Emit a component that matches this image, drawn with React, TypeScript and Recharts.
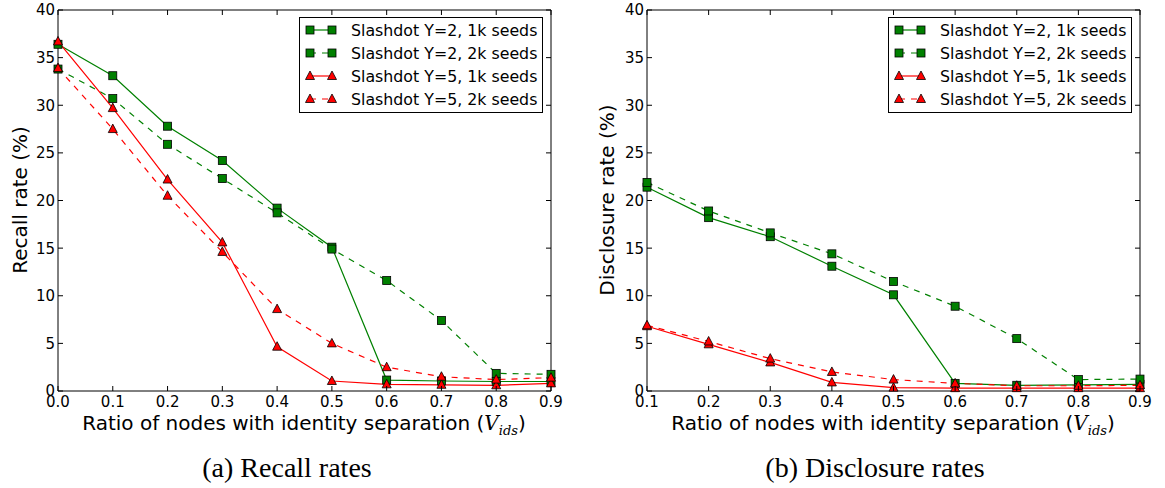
import { Legend, Line, LineChart, ReferenceArea, XAxis, YAxis } from "recharts"

const xRecall = [0, 0.1, 0.2, 0.3, 0.4, 0.5, 0.6, 0.7, 0.8, 0.9]
const recallY2k1 = [36.4, 33.1, 27.8, 24.2, 19.2, 15.1, 1.15, 1.05, 1.0, 1.0]
const recallY2k2 = [33.8, 30.7, 25.9, 22.3, 18.7, 14.9, 11.6, 7.4, 1.85, 1.75]
const recallY5k1 = [36.7, 29.7, 22.2, 15.6, 4.65, 1.05, 0.7, 0.65, 0.6, 0.8]
const recallY5k2 = [33.9, 27.5, 20.5, 14.6, 8.6, 5.0, 2.5, 1.5, 1.2, 1.4]

const xDisc = [0.1, 0.2, 0.3, 0.4, 0.5, 0.6, 0.7, 0.8, 0.9]
const discY2k1 = [21.4, 18.2, 16.2, 13.1, 10.1, 0.8, 0.6, 0.65, 0.7]
const discY2k2 = [21.9, 18.9, 16.6, 14.4, 11.5, 8.9, 5.5, 1.2, 1.25]
const discY5k1 = [6.8, 4.9, 3.0, 0.9, 0.35, 0.3, 0.3, 0.3, 0.3]
const discY5k2 = [6.9, 5.2, 3.4, 2.0, 1.2, 0.8, 0.55, 0.55, 0.6]

const yTicks = [0, 5, 10, 15, 20, 25, 30, 35, 40]
const seriesNames = [
  "Slashdot Y=2, 1k seeds",
  "Slashdot Y=2, 2k seeds",
  "Slashdot Y=5, 1k seeds",
  "Slashdot Y=5, 2k seeds",
]

const GREEN = "#008000"
const RED = "#ff0000"
const FONT = "'DejaVu Sans', sans-serif"

// plot box size inside each panel (chart 570x430 minus margins/axes)
const PLOT_W = 493
const PLOT_H = 381

type Row = { x: number; a: number; b: number; c: number; d: number }

function buildRows(xs: number[], a: number[], b: number[], c: number[], d: number[]): Row[] {
  return xs.map((x, i) => ({ x, a: a[i], b: b[i], c: c[i], d: d[i] }))
}

function Square({ cx, cy }: { cx: number; cy: number }) {
  return <rect x={cx - 4} y={cy - 4} width={8} height={8} fill={GREEN} stroke="#000" strokeWidth={0.8} />
}

function Tri({ cx, cy }: { cx: number; cy: number }) {
  return (
    <polygon
      points={`${cx},${cy - 5} ${cx - 4.5},${cy + 3.5} ${cx + 4.5},${cy + 3.5}`}
      fill={RED}
      stroke="#000"
      strokeWidth={0.8}
    />
  )
}

const squareDot = (p: any) => (p.cx == null ? <g key={p.index} /> : <Square key={p.index} cx={p.cx} cy={p.cy} />)
const triDot = (p: any) => (p.cx == null ? <g key={p.index} /> : <Tri key={p.index} cx={p.cx} cy={p.cy} />)

// bottom tick: inward tick at bottom and top spine, plus label
function BottomTick({ x, y, payload }: any) {
  return (
    <g>
      <line x1={x} x2={x} y1={y} y2={y - 5} stroke="#000" />
      <line x1={x} x2={x} y1={y - PLOT_H} y2={y - PLOT_H + 5} stroke="#000" />
      <text x={x} y={y + 16.3} textAnchor="middle" fontSize={15} fontFamily={FONT} fill="#000">
        {Number(payload.value).toFixed(1)}
      </text>
    </g>
  )
}

function LeftTick({ x, y, payload }: any) {
  return (
    <g>
      <line x1={x} x2={x + 5} y1={y} y2={y} stroke="#000" />
      <line x1={x + PLOT_W} x2={x + PLOT_W - 5} y1={y} y2={y} stroke="#000" />
      <text x={x - 3} y={y + 5.4} textAnchor="end" fontSize={15} fontFamily={FONT} fill="#000">
        {payload.value}
      </text>
    </g>
  )
}

function LegendBox() {
  return (
    <svg width={245} height={97} style={{ display: "block" }}>
      <rect x={0.5} y={0.5} width={243} height={95} fill="#fff" stroke="#000" />
      {seriesNames.map((name, i) => {
        const cy = 13 + 23 * i
        const green = i < 2
        const dashed = i % 2 === 1
        return (
          <g key={name}>
            <line
              x1={11}
              x2={33}
              y1={cy}
              y2={cy}
              stroke={green ? GREEN : RED}
              strokeWidth={1.2}
              strokeDasharray={dashed ? "6 6" : undefined}
            />
            {green ? <Square cx={11} cy={cy} /> : <Tri cx={11} cy={cy} />}
            {green ? <Square cx={33} cy={cy} /> : <Tri cx={33} cy={cy} />}
            <text x={52} y={cy + 5.5} fontSize={15.8} fontFamily={FONT} fill="#000">
              {name}
            </text>
          </g>
        )
      })}
    </svg>
  )
}

function Panel({ rows, xDomain, left }: { rows: Row[]; xDomain: number[]; left: number }) {
  const xTicks = rows.map((r) => r.x)
  return (
    <div style={{ position: "absolute", left, top: 0 }}>
      <LineChart width={570} height={430} data={rows} margin={{ top: 10, right: 19, bottom: 9, left: 8 }}>
        <XAxis
          dataKey="x"
          type="number"
          domain={xDomain}
          ticks={xTicks}
          interval={0}
          height={30}
          tickSize={0}
          tickMargin={0}
          tick={<BottomTick />}
          axisLine={false}
        />
        <YAxis
          type="number"
          domain={[0, 40]}
          ticks={yTicks}
          interval={0}
          width={50}
          tickSize={0}
          tickMargin={0}
          tick={<LeftTick />}
          axisLine={false}
        />
        <ReferenceArea
          x1={xDomain[0]}
          x2={xDomain[1]}
          y1={0}
          y2={40}
          fill="none"
          fillOpacity={0}
          stroke="#000"
          strokeWidth={1}
        />
        <Line dataKey="a" stroke={GREEN} strokeWidth={1.2} dot={squareDot} isAnimationActive={false} />
        <Line dataKey="b" stroke={GREEN} strokeWidth={1.2} strokeDasharray="6 6" dot={squareDot} isAnimationActive={false} />
        <Line dataKey="c" stroke={RED} strokeWidth={1.2} dot={triDot} isAnimationActive={false} />
        <Line dataKey="d" stroke={RED} strokeWidth={1.2} strokeDasharray="6 6" dot={triDot} isAnimationActive={false} />
        <Legend
          layout="vertical"
          align="center"
          verticalAlign="middle"
          wrapperStyle={{ left: 299, top: 17, width: 245, height: 97 }}
          content={() => <LegendBox />}
        />
      </LineChart>
    </div>
  )
}

function XLabel({ cx }: { cx: number }) {
  return (
    <div
      style={{
        position: "absolute",
        left: cx,
        top: 425,
        transform: "translate(-50%, -50%)",
        whiteSpace: "nowrap",
        fontFamily: FONT,
        fontSize: 20,
        lineHeight: 1,
      }}
    >
      Ratio of nodes with identity separation (
      <span style={{ fontFamily: "'DejaVu Serif', serif", fontStyle: "italic" }}>V</span>
      <sub style={{ fontFamily: "'DejaVu Serif', serif", fontStyle: "italic", fontSize: 13 }}>ids</sub>)
    </div>
  )
}

function YLabel({ cx, text }: { cx: number; text: string }) {
  return (
    <div
      style={{
        position: "absolute",
        left: cx,
        top: 200,
        transform: "translate(-50%, -50%) rotate(-90deg)",
        whiteSpace: "nowrap",
        fontFamily: FONT,
        fontSize: 20,
        lineHeight: 1,
      }}
    >
      {text}
    </div>
  )
}

function Caption({ cx, text }: { cx: number; text: string }) {
  return (
    <div
      style={{
        position: "absolute",
        left: cx,
        top: 468,
        transform: "translate(-50%, -50%)",
        whiteSpace: "nowrap",
        fontFamily: "'Liberation Serif', serif",
        fontSize: 28,
        lineHeight: 1,
      }}
    >
      {text}
    </div>
  )
}

export default function App() {
  const recallRows = buildRows(xRecall, recallY2k1, recallY2k2, recallY5k1, recallY5k2)
  const discRows = buildRows(xDisc, discY2k1, discY2k2, discY5k1, discY5k2)
  return (
    <div style={{ position: "absolute", left: 0, top: 0, width: 1165, height: 488, background: "#fff" }}>
      <Panel rows={recallRows} xDomain={[0, 0.9]} left={0} />
      <Panel rows={discRows} xDomain={[0.1, 0.9]} left={589} />
      <YLabel cx={20} text="Recall rate (%)" />
      <YLabel cx={607} text="Disclosure rate (%)" />
      <XLabel cx={304} />
      <XLabel cx={893} />
      <Caption cx={287} text="(a) Recall rates" />
      <Caption cx={875} text="(b) Disclosure rates" />
    </div>
  )
}
